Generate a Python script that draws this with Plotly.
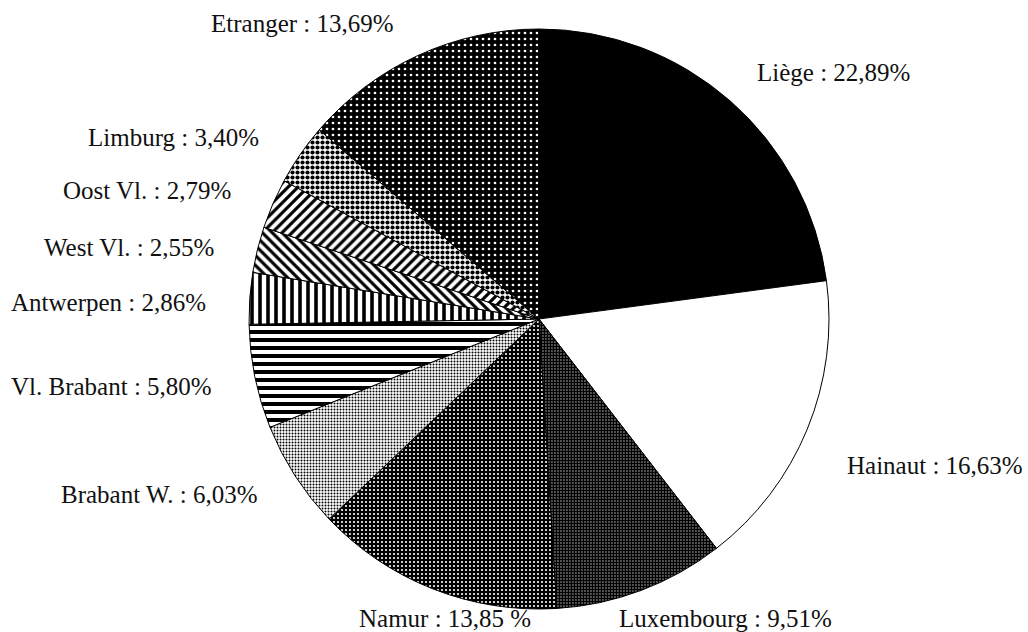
import plotly.graph_objects as go

# Share of each origin, clockwise from 12 o'clock
regions = ["Liège", "Hainaut", "Luxembourg", "Namur", "Brabant W.", "Vl. Brabant",
           "Antwerpen", "West Vl.", "Oost Vl.", "Limburg", "Etranger"]
shares = [22.89, 16.63, 9.51, 13.85, 6.03, 5.80, 2.86, 2.55, 2.79, 3.40, 13.69]
# gap printed between the number and the percent sign
pct_gap = ["", "", "", " ", "", "", "", "", "", "", ""]

# Fill style for each slice: (base colour, pattern shape, pattern colour, cell size, solidity)
fills = [
    ("black", "", "black", 8, 0.5),
    ("white", "", "white", 8, 0.5),
    ("white", ".", "black", 3, 0.8),
    ("black", ".", "white", 4, 0.22),
    ("white", ".", "black", 3, 0.35),
    ("white", "-", "black", 8, 0.5),
    ("white", "|", "black", 8, 0.45),
    ("white", "\\", "black", 7, 0.45),
    ("white", "/", "black", 7, 0.45),
    ("white", ".", "black", 5, 0.55),
    ("black", ".", "white", 6, 0.16),
]

# Label anchor points in paper coordinates (x, y)
label_xy = [
    (0.811, 0.886),  # Liège
    (0.910, 0.263),  # Hainaut
    (0.706, 0.022),  # Luxembourg
    (0.433, 0.022),  # Namur
    (0.155, 0.217),  # Brabant W.
    (0.108, 0.388),  # Vl. Brabant
    (0.106, 0.522),  # Antwerpen
    (0.125, 0.609),  # West Vl.
    (0.143, 0.699),  # Oost Vl.
    (0.169, 0.783),  # Limburg
    (0.294, 0.963),  # Etranger
]

W, H = 1028, 632
cx, cy, r = 539, 319, 290

fig = go.Figure(go.Pie(
    labels=regions,
    values=shares,
    sort=False,
    direction="clockwise",
    rotation=0,
    textinfo="none",
    hoverinfo="label+value",
    showlegend=False,
    domain=dict(x=[(cx - r) / W, (cx + r) / W], y=[1 - (cy + r) / H, 1 - (cy - r) / H]),
    marker=dict(
        colors=[f[0] for f in fills],
        line=dict(color="black", width=1),
        pattern=dict(
            shape=[f[1] for f in fills],
            fgcolor=[f[2] for f in fills],
            bgcolor=[f[0] for f in fills],
            size=[f[3] for f in fills],
            solidity=[f[4] for f in fills],
            fillmode="replace",
        ),
    ),
))

for name, val, gap, (lx, ly) in zip(regions, shares, pct_gap, label_xy):
    txt = f"{name} : " + f"{val:.2f}".replace(".", ",") + f"{gap}%"
    fig.add_annotation(
        x=lx, y=ly, xref="paper", yref="paper",
        text=txt, showarrow=False,
        xanchor="center", yanchor="middle",
        font=dict(family="Liberation Serif", size=25, color="#111111"),
    )

fig.update_layout(
    width=W, height=H,
    margin=dict(l=0, r=0, t=0, b=0),
    paper_bgcolor="white",
    plot_bgcolor="white",
)

fig.write_html("out.html")
